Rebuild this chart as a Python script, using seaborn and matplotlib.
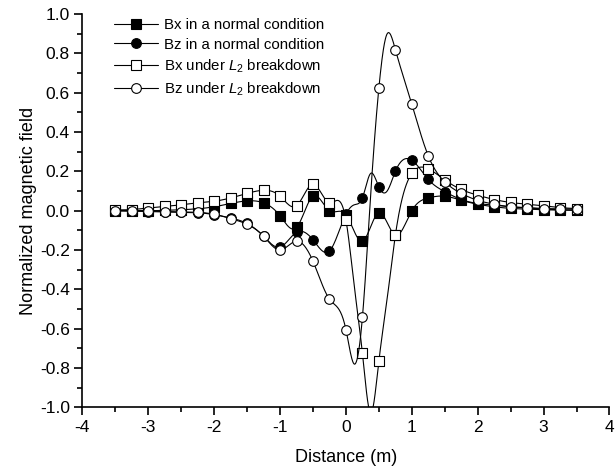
import numpy as np
import pandas as pd
import matplotlib
matplotlib.use("Agg")
import matplotlib.pyplot as plt
from matplotlib.lines import Line2D
from matplotlib.ticker import MultipleLocator
import seaborn as sns

# marked data points
distance = [-3.5, -3.25, -3.0, -2.75, -2.5, -2.25, -2.0, -1.75, -1.5, -1.25,
            -1.0, -0.75, -0.5, -0.25, 0.0, 0.25, 0.5, 0.75, 1.0, 1.25,
            1.5, 1.75, 2.0, 2.25, 2.5, 2.75, 3.0, 3.25, 3.5]
bx_normal = [0.0, 0.0, 0.0, 0.002, 0.005, 0.01, 0.02, 0.037, 0.05, 0.04,
             -0.026, -0.085, 0.074, 0.0, -0.02, -0.155, -0.01, -0.125, 0.0, 0.065,
             0.074, 0.053, 0.033, 0.02, 0.012, 0.008, 0.005, 0.003, 0.002]
bz_normal = [0.0, -0.002, -0.004, -0.006, -0.008, -0.01, -0.02, -0.037, -0.065, -0.13,
             -0.185, -0.11, -0.148, -0.205, -0.018, 0.065, 0.121, 0.2, 0.257, 0.159,
             0.097, 0.057, 0.037, 0.028, 0.02, 0.014, 0.009, 0.005, 0.003]
bx_l2 = [0.004, 0.006, 0.014, 0.022, 0.03, 0.04, 0.048, 0.065, 0.088, 0.104,
         0.074, 0.025, 0.135, 0.04, -0.048, -0.725, -0.765, -0.125, 0.19, 0.213,
         0.157, 0.108, 0.079, 0.057, 0.042, 0.033, 0.025, 0.016, 0.011]
bz_l2 = [0.0, 0.0, -0.002, -0.004, -0.006, -0.008, -0.018, -0.04, -0.069, -0.13,
         -0.2, -0.155, -0.257, -0.45, -0.605, -0.543, 0.625, 0.82, 0.542, 0.279,
         0.147, 0.088, 0.053, 0.033, 0.02, 0.016, 0.011, 0.01, 0.008]

# unmarked line vertices
mid_distance = [0.125, 0.375, 0.625]
bx_normal_mid = []
bz_normal_mid = [0.03, 0.19, 0.1]
bx_l2_mid = [-0.38, -1.03, -0.45]
bz_l2_mid = [-0.78, 0.08, 0.9]

labels = ["Bx in a normal condition", "Bz in a normal condition",
          r"Bx under $\mathit{L}_{2}$ breakdown", r"Bz under $\mathit{L}_{2}$ breakdown"]


def natural_spline(x, y, n=24):
    order = np.argsort(x)
    x = np.asarray(x, float)[order]
    y = np.asarray(y, float)[order]
    N = len(x)
    h = np.diff(x)
    A = np.zeros((N, N))
    d = np.zeros(N)
    A[0, 0] = 1
    A[-1, -1] = 1
    for i in range(1, N - 1):
        A[i, i - 1] = h[i - 1]
        A[i, i] = 2 * (h[i - 1] + h[i])
        A[i, i + 1] = h[i]
        d[i] = 6 * ((y[i + 1] - y[i]) / h[i] - (y[i] - y[i - 1]) / h[i - 1])
    M = np.linalg.solve(A, d)
    xs, ys = [], []
    for i in range(N - 1):
        t = np.linspace(x[i], x[i + 1], n, endpoint=(i == N - 2))
        a = x[i + 1] - t
        b = t - x[i]
        s = (M[i] * a ** 3 / (6 * h[i]) + M[i + 1] * b ** 3 / (6 * h[i])
             + (y[i] / h[i] - M[i] * h[i] / 6) * a
             + (y[i + 1] / h[i] - M[i + 1] * h[i] / 6) * b)
        xs.append(t)
        ys.append(s)
    return np.concatenate(xs), np.concatenate(ys)


sns.set_theme(style="ticks")
plt.rcParams["font.family"] = ["Liberation Sans", "DejaVu Sans"]
plt.rcParams["mathtext.fontset"] = "custom"
plt.rcParams["mathtext.rm"] = "Liberation Sans"
plt.rcParams["mathtext.it"] = "Liberation Sans:italic"

fig = plt.figure(figsize=(6.15, 4.73), dpi=100)
ax = fig.add_axes([0.134, 0.139, 0.857, 0.831])

series = [bx_normal, bz_normal, bx_l2, bz_l2]
mids = [bx_normal_mid, bz_normal_mid, bx_l2_mid, bz_l2_mid]
markers = ["s", "o", "s", "o"]
faces = ["black", "black", "white", "white"]
handles = []
for k, (vals, mv, m, fc, lab) in enumerate(zip(series, mids, markers, faces, labels)):
    lx = list(distance) + (list(mid_distance) if mv else [])
    ly = list(vals) + list(mv)
    xs, ys = natural_spline(lx, ly)
    dfl = pd.DataFrame({"x": xs, "y": ys})
    sns.lineplot(data=dfl, x="x", y="y", ax=ax, color="black", lw=0.8,
                 sort=False, estimator=None, zorder=2 + 2 * k)
    dfp = pd.DataFrame({"x": distance, "y": vals})
    sns.scatterplot(data=dfp, x="x", y="y", ax=ax, marker=m, s=48,
                    color=fc, edgecolor="black", linewidth=0.8,
                    zorder=3 + 2 * k)
    handles.append(Line2D([], [], color="black", lw=0.8, marker=m,
                          markersize=7, markerfacecolor=fc,
                          markeredgecolor="black", markeredgewidth=0.8))

ax.set_xlim(-4, 4)
ax.set_ylim(-1.0, 1.0)
ax.xaxis.set_major_locator(MultipleLocator(1))
ax.xaxis.set_minor_locator(MultipleLocator(0.5))
ax.yaxis.set_major_locator(MultipleLocator(0.2))
ax.yaxis.set_minor_locator(MultipleLocator(0.1))
ax.set_yticklabels([f"{v:.1f}" for v in ax.get_yticks()])
ax.set_xticklabels([f"{int(v)}" for v in ax.get_xticks()])
ax.tick_params(which="major", direction="out", length=6, width=1.2,
               labelsize=12.5, color="black", labelcolor="black", pad=3)
ax.tick_params(which="minor", direction="out", length=3.5, width=1.2,
               color="black")
for side in ["top", "right"]:
    ax.spines[side].set_visible(False)
for side in ["left", "bottom"]:
    ax.spines[side].set_linewidth(1.2)
    ax.spines[side].set_color("black")

ax.set_xlabel("Distance (m)", fontsize=13, color="black", labelpad=10)
ax.set_ylabel("Normalized magnetic field", fontsize=13, color="black", labelpad=2)

leg = ax.legend(handles, labels, loc="upper left", bbox_to_anchor=(0.035, 1.025),
                frameon=False, fontsize=10.8, handlelength=2.9,
                handletextpad=0.4, labelspacing=0.38)
for t in leg.get_texts():
    t.set_color("black")

fig.savefig("out.png", dpi=100)
